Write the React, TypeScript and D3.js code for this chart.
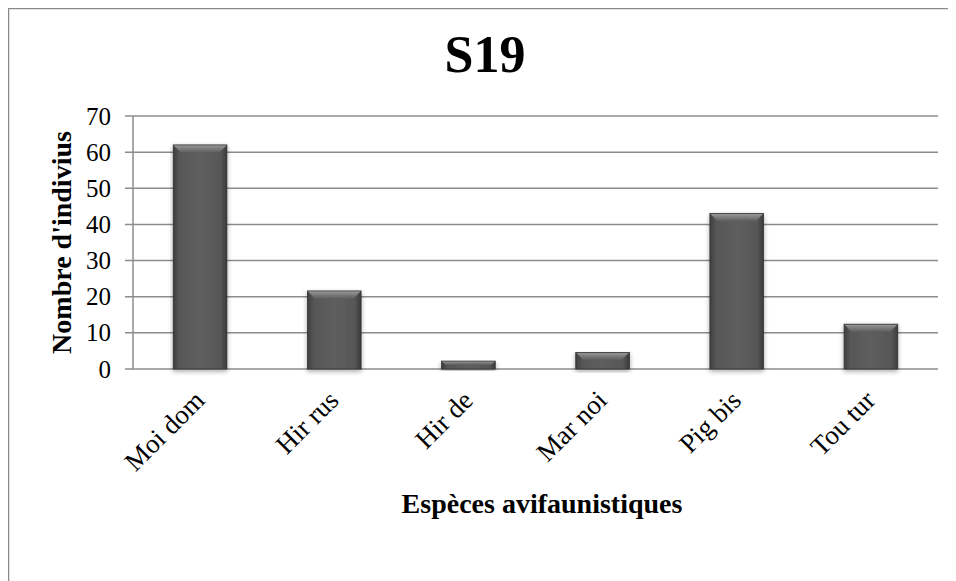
import React from "react";
import * as d3 from "d3";

const categories = ["Moi dom", "Hir rus", "Hir de", "Mar noi", "Pig bis", "Tou tur"];
const values = [62, 21.6, 2.2, 4.6, 43, 12.4];
const yTicks = [0, 10, 20, 30, 40, 50, 60, 70];
const title = "S19";
const xTitle = "Espèces avifaunistiques";
const yTitle = "Nombre d'indivius";

export default function App() {
  const W = 948, H = 573;
  const left = 125, right = 930, top = 108, bottom = 361;
  const x = d3.scaleBand().domain(categories).range([left, right]).paddingInner(0.6).paddingOuter(0.3);
  const y = d3.scaleLinear().domain([0, 70]).range([bottom, top]);
  const font = "'Liberation Serif', 'Times New Roman', serif";
  const bw = x.bandwidth();
  return (
    <svg width={W} height={H} style={{ display: "block", overflow: "hidden" }}>
      <defs>
        <linearGradient id="barg" x1="0" x2="1" y1="0" y2="0">
          <stop offset="0" stopColor="#3e3e3e" />
          <stop offset="0.12" stopColor="#575757" />
          <stop offset="0.5" stopColor="#5e5e5e" />
          <stop offset="0.88" stopColor="#575757" />
          <stop offset="1" stopColor="#3a3a3a" />
        </linearGradient>
        <linearGradient id="bevel" x1="0" x2="0" y1="0" y2="1">
          <stop offset="0" stopColor="#9a9a9a" />
          <stop offset="1" stopColor="#5a5a5a" />
        </linearGradient>
        <filter id="sh" x="-30%" y="-10%" width="160%" height="130%">
          <feGaussianBlur in="SourceAlpha" stdDeviation="2.5" />
          <feOffset dx="0" dy="2" result="b" />
          <feComponentTransfer><feFuncA type="linear" slope="0.35" /></feComponentTransfer>
          <feMerge><feMergeNode /><feMergeNode in="SourceGraphic" /></feMerge>
        </filter>
      </defs>
      <rect x={0.5} y={0.5} width={1200} height={1200} fill="#fff" stroke="#8a8a8a" strokeWidth={1.5} />
      <text x={477} y={64} textAnchor="middle" fontFamily={font} fontWeight="bold" fontSize={52}>{title}</text>
      {yTicks.map((t) => (
        <g key={t}>
          <line x1={left - 8} x2={right} y1={y(t)} y2={y(t)} stroke="#8c8c8c" strokeWidth={1.5} />
          <text x={left - 22} y={y(t)} dy="0.34em" textAnchor="end" fontFamily={font} fontSize={25}>{t}</text>
        </g>
      ))}
      <line x1={left} x2={left} y1={top} y2={bottom} stroke="#8c8c8c" strokeWidth={1.5} />
      {categories.map((c, i) => {
        const x0 = x(c)!;
        const y0 = y(values[i]);
        const h = bottom - y0;
        const bv = Math.min(8, h / 2);
        return (
          <g key={c} filter="url(#sh)">
            <rect x={x0} y={y0} width={bw} height={h} fill="url(#barg)" />
            <polygon
              points={`${x0},${y0} ${x0 + bw},${y0} ${x0 + bw - bv},${y0 + bv} ${x0 + bv},${y0 + bv}`}
              fill="url(#bevel)"
            />
            <rect x={x0} y={y0} width={bw} height={h} fill="none" stroke="#333" strokeWidth={0.8} />
          </g>
        );
      })}
      {categories.map((c) => {
        const cx = x(c)! + bw / 2;
        return (
          <text key={c} transform={`translate(${cx + 6},${bottom + 33}) rotate(-45)`} textAnchor="end"
            fontFamily={font} fontSize={27}>{c}</text>
        );
      })}
      <text x={534} y={505} textAnchor="middle" fontFamily={font} fontWeight="bold" fontSize={28}>{xTitle}</text>
      <text transform={`translate(63,${(top + bottom) / 2}) rotate(-90)`} textAnchor="middle"
        fontFamily={font} fontWeight="bold" fontSize={28}>{yTitle}</text>
    </svg>
  );
}
